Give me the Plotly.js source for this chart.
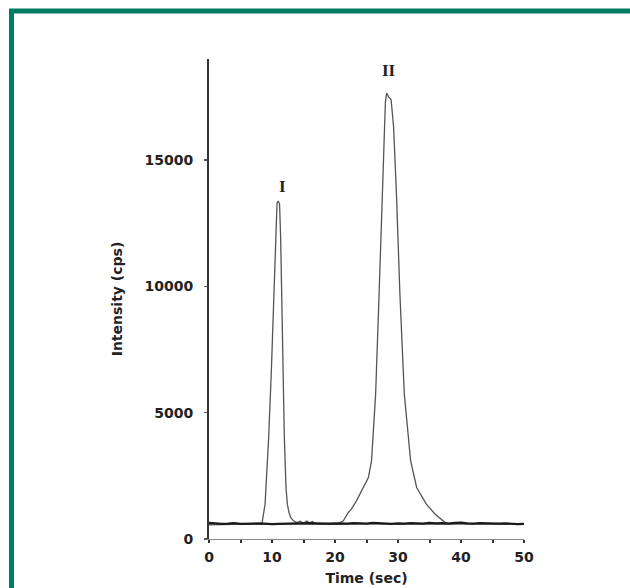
<!DOCTYPE html>
<html>
<head>
<meta charset="utf-8">
<script src="https://cdn.plot.ly/plotly-3.0.1.min.js"></script>
<style>html,body{margin:0;padding:0;background:#fff;}#chart{width:630px;height:588px;}</style>
</head>
<body>
<div id="chart"></div>
<script>
// Baseline trace (dark), time in sec
const baseTime = [0,1,2,3,4,5,6,7,8,9,10,11,12,13,14,15,16,17,18,19,20,21,22,23,24,25,26,27,28,29,30,31,32,33,34,35,36,37,38,39,40,41,42,43,44,45,46,47,48,49,50];
const baseInt  = [640,620,600,610,630,600,590,610,620,600,590,600,610,620,600,610,630,620,600,610,620,600,610,630,620,610,640,620,610,600,620,610,630,620,610,640,620,630,610,640,650,620,610,630,620,600,610,620,600,590,600];

// Peak I trace
const peak1Time = [0,2,4,6,8,8.4,8.9,9.47,9.9,10.27,10.58,10.8,11.0,11.2,11.37,11.56,11.75,11.96,12.22,12.43,12.7,12.96,13.4,13.9,14.5,15,15.5,16,16.4,17,18,20,25,30,35,40,45,50];
const peak1Int  = [560,570,560,560,570,600,1380,4020,6670,9310,11960,13300,13380,13250,11960,9310,6670,4020,2040,1380,1050,850,720,650,700,620,710,640,690,600,580,590,600,590,600,610,600,590];

// Peak II trace
const peak2Time = [0,5,10,15,20,20.3,21.3,22.1,22.6,23.4,24.5,25.3,25.8,26.45,27.0,27.56,28.0,28.2,28.5,28.9,29.3,29.75,30.3,31.0,31.5,32.0,32.96,34.5,35.9,37.5,38.5,40,45,50];
const peak2Int  = [600,590,600,590,590,600,710,1045,1180,1510,2040,2430,3100,5740,9710,13680,17300,17650,17500,17400,16320,13680,9710,5740,4420,3100,2040,1380,980,650,600,620,600,600];

// Peak labels
const peakLabels = ["I","II"];
const peakLabelX = [11.7,28.6];
const peakLabelY = [13950,18550];

const xTicks = [0,10,20,30,40,50];
const yTicks = [0,5000,10000,15000];

const fontFam = "DejaVu Sans, Verdana, sans-serif";
const green = "#007C64";

const traces = [
  {x: peak1Time, y: peak1Int, mode: "lines", line: {color: "#555555", width: 1.3}, hoverinfo: "skip"},
  {x: peak2Time, y: peak2Int, mode: "lines", line: {color: "#555555", width: 1.3}, hoverinfo: "skip"},
  {x: baseTime, y: baseInt, mode: "lines", line: {color: "#1a1a1a", width: 2.2}, hoverinfo: "skip"}
];

const annotations = peakLabels.map((t,i) => ({
  x: peakLabelX[i], y: peakLabelY[i], xref: "x", yref: "y", text: t, showarrow: false,
  font: {family: "Liberation Serif, DejaVu Serif, serif", size: 17, color: "#222", weight: "bold"}
}));

const layout = {
  width: 630, height: 588,
  margin: {l: 209, r: 106, t: 59, b: 49},
  paper_bgcolor: "#ffffff", plot_bgcolor: "#ffffff",
  showlegend: false,
  font: {family: fontFam, size: 14, color: "#222"},
  xaxis: {
    range: [0, 50], tickvals: xTicks, ticktext: xTicks.map(String),
    showgrid: false, zeroline: false, showline: true, linecolor: "#888", linewidth: 1,
    ticks: "outside", ticklen: 3, tickwidth: 2, tickcolor: "#333",
    minor: {dtick: 5, tick0: 0, ticks: "outside", ticklen: 3, tickwidth: 2, tickcolor: "#333"},
    tickfont: {family: fontFam, size: 14, color: "#222", weight: "bold"},
    ticklabelstandoff: 2,
    title: {text: "Time (sec)", font: {family: fontFam, size: 14, color: "#222", weight: "bold"}, standoff: 9},
    fixedrange: true
  },
  yaxis: {
    range: [0, 19000], tickvals: yTicks, ticktext: yTicks.map(String),
    showgrid: false, zeroline: false, showline: true, linecolor: "#333", linewidth: 2,
    ticks: "outside", ticklen: 3, tickwidth: 1.5, tickcolor: "#555",
    tickfont: {family: fontFam, size: 14, color: "#222", weight: "bold"},
    ticklabelstandoff: 8,
    title: {text: "Intensity (cps)", font: {family: fontFam, size: 14, color: "#222", weight: "bold"}, standoff: 19},
    fixedrange: true
  },
  annotations: annotations,
  shapes: [
    {type: "path", xref: "paper", yref: "paper",
     path: "M -0.627 -0.2 L -0.627 1.1 L 1.4 1.1",
     line: {color: green, width: 5}}
  ]
};

Plotly.newPlot("chart", traces, layout, {staticPlot: true, displayModeBar: false});
</script>
</body>
</html>
